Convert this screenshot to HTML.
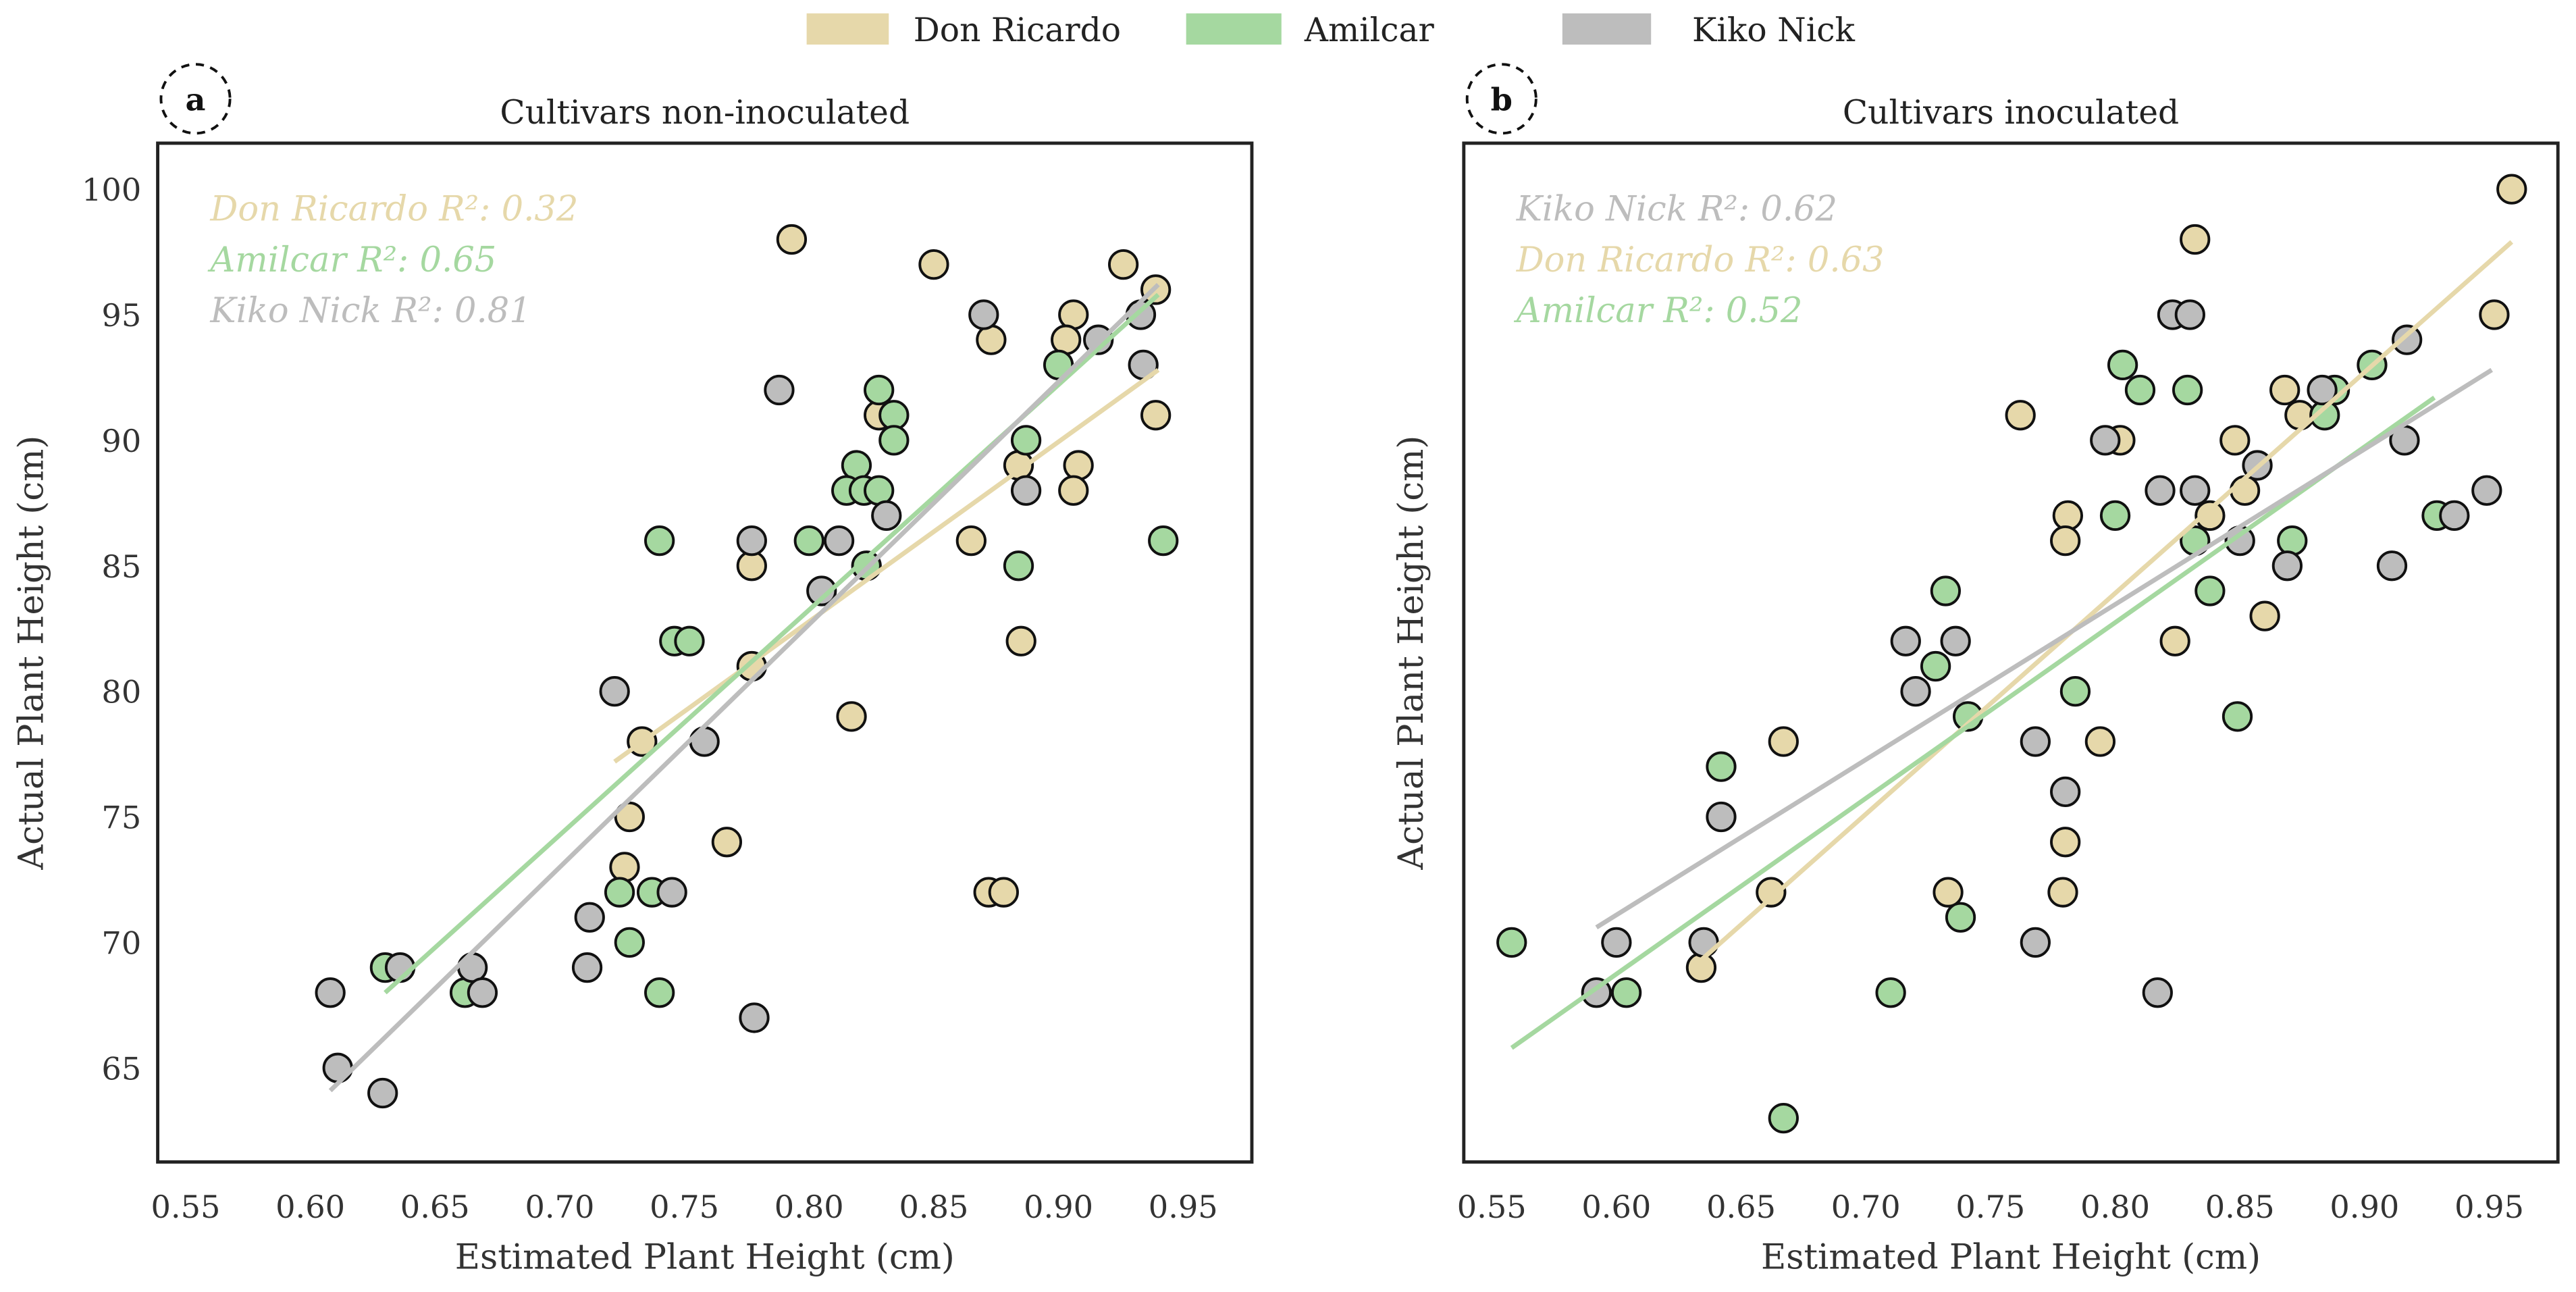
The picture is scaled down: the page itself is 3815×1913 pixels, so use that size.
<!DOCTYPE html>
<html><head><meta charset="utf-8"><style>
html,body{margin:0;padding:0;background:#fff}
svg{display:block;font-family:"DejaVu Serif","Liberation Serif",serif}
</style></head><body>
<svg id="fig" width="3815" height="1913" viewBox="0 0 1568 786" xmlns="http://www.w3.org/2000/svg">
<g font-size="20" fill="#222">
  <rect x="491" y="8" width="50" height="19" fill="#e6d8aa"/>
  <text x="556" y="25">Don Ricardo</text>
  <rect x="722" y="8" width="58" height="19" fill="#a5d8a0"/>
  <text x="794" y="25">Amilcar</text>
  <rect x="951" y="8" width="54" height="19" fill="#bdbdbd"/>
  <text x="1030" y="25">Kiko Nick</text>
</g>
<g id="pa"></g>
<g id="pb"></g>
</svg>
<script>
const xTicks=[0.55,0.60,0.65,0.70,0.75,0.80,0.85,0.90,0.95];
const yTicks=[65,70,75,80,85,90,95,100];
const cultivars=["Don Ricardo","Amilcar","Kiko Nick"];
const aDonX=[0.793,0.85,0.926,0.939,0.906,0.903,0.873,0.828,0.939,0.908,0.884,0.906,0.865,0.777,0.777,0.817,0.733,0.728,0.767,0.726,0.872,0.878,0.885];
const aDonY=[98,97,97,96,95,94,94,91,91,89,89,88,86,85,81,79,78,75,74,73,72,72,82];
const aAmiX=[0.828,0.834,0.834,0.900,0.887,0.819,0.815,0.822,0.828,0.800,0.740,0.942,0.884,0.746,0.752,0.724,0.737,0.728,0.740,0.630,0.662,0.823];
const aAmiY=[92,91,90,93,90,89,88,88,88,86,86,86,85,82,82,72,72,70,68,69,68,85];
const aKikX=[0.870,0.933,0.916,0.934,0.788,0.887,0.831,0.812,0.777,0.805,0.722,0.758,0.712,0.745,0.711,0.665,0.636,0.669,0.608,0.611,0.629,0.778];
const aKikY=[95,95,94,93,92,88,87,86,86,84,80,78,71,72,69,69,69,68,68,65,64,67];
const bDonX=[0.959,0.832,0.952,0.868,0.762,0.802,0.874,0.848,0.852,0.838,0.781,0.780,0.824,0.860,0.794,0.667,0.780,0.733,0.779,0.662,0.634];
const bDonY=[100,98,95,92,91,90,91,90,88,87,87,86,82,83,78,78,74,72,72,72,69];
const bAmiX=[0.803,0.810,0.829,0.888,0.903,0.884,0.800,0.929,0.832,0.871,0.838,0.732,0.728,0.784,0.849,0.741,0.642,0.738,0.558,0.604,0.710,0.667];
const bAmiY=[93,92,92,92,93,91,87,87,86,86,84,84,81,80,79,79,77,71,70,68,68,63];
const bKikX=[0.823,0.830,0.917,0.796,0.916,0.818,0.832,0.857,0.883,0.949,0.936,0.850,0.869,0.911,0.716,0.736,0.720,0.768,0.780,0.642,0.768,0.600,0.635,0.592,0.817];
const bKikY=[95,95,94,90,90,88,88,89,92,88,87,86,85,85,82,82,80,78,76,75,70,70,70,68,68];
// fit line endpoints [x1,y1,x2,y2]
const aDonFit=[0.722,77.2,0.940,92.8], aAmiFit=[0.630,68.0,0.940,95.8], aKikFit=[0.608,64.1,0.940,96.2];
const bDonFit=[0.634,69.3,0.959,97.9], bAmiFit=[0.558,65.8,0.928,91.7], bKikFit=[0.592,70.6,0.951,92.8];
const aR2=["Don Ricardo R²: 0.32","Amilcar R²: 0.65","Kiko Nick R²: 0.81"];
const bR2=["Kiko Nick R²: 0.62","Don Ricardo R²: 0.63","Amilcar R²: 0.52"];
const colors={"Don Ricardo":"#e6d8aa","Amilcar":"#a5d8a0","Kiko Nick":"#bdbdbd"};
const NS="http://www.w3.org/2000/svg";
function mk(p,t,a,txt){const e=document.createElementNS(NS,t);for(const k in a)e.setAttribute(k,a[k]);if(txt!==undefined)e.textContent=txt;p.appendChild(e);return e;}
function panel(g,L,letter,title,showY,series,fits,r2,r2cols){
  const R=L+666,T=87,B=707;
  const sx=v=>L+17+(v-0.55)/0.05*75.9;
  const sy=v=>115+(100-v)/5*76.4;
  let e=mk(g,"rect",{x:L,y:T,width:R-L,height:B-T,fill:"none",stroke:"#222","stroke-width":2});
  
  
  xTicks.forEach(t=>{e=mk(g,"text",{x:sx(t),y:741,"text-anchor":"middle","font-size":19,fill:"#333"},t.toFixed(2));
    
    });
  if(showY) yTicks.forEach(t=>{e=mk(g,"text",{x:86,y:sy(t)+7,"text-anchor":"end","font-size":19,fill:"#333"},t);
    
    });
  e=mk(g,"text",{x:L+333,y:772,"text-anchor":"middle","font-size":21,fill:"#333"},"Estimated Plant Height (cm)");
  
  
  const yx=L-70+(showY?0:45);
  e=mk(g,"text",{x:yx,y:397,"text-anchor":"middle","font-size":21,fill:"#333",transform:`rotate(-90 ${yx} 397)`},"Actual Plant Height (cm)");
  
  
  e=mk(g,"text",{x:L+333,y:75,"text-anchor":"middle","font-size":20,fill:"#222"},title);
  
  
  e=mk(g,"circle",{cx:L+23,cy:60,r:21,fill:"none",stroke:"#111","stroke-width":1.6,"stroke-dasharray":"5,4"});
  
  
  e=mk(g,"text",{x:L+23,y:67,"text-anchor":"middle","font-size":19,"font-weight":"bold",fill:"#111"},letter);
  
  
  series.forEach(s=>{s.x.forEach((xv,i)=>{e=mk(g,"circle",{cx:sx(xv),cy:sy(s.y[i]),r:8.5,fill:colors[s.n],stroke:"#111","stroke-width":1.6});
    
    });});
  fits.forEach(f=>{e=mk(g,"line",{x1:sx(f.d[0]),y1:sy(f.d[1]),x2:sx(f.d[2]),y2:sy(f.d[3]),stroke:colors[f.n],"stroke-width":2.8});
    
    });
  r2.forEach((t,i)=>{e=mk(g,"text",{x:L+32,y:134+i*31,"font-size":21,"font-style":"italic",fill:colors[r2cols[i]]},t);
    
    });
}
panel(document.getElementById("pa"),96,"a","Cultivars non-inoculated",true,
 [{n:"Don Ricardo",x:aDonX,y:aDonY},{n:"Amilcar",x:aAmiX,y:aAmiY},{n:"Kiko Nick",x:aKikX,y:aKikY}],
 [{n:"Don Ricardo",d:aDonFit},{n:"Amilcar",d:aAmiFit},{n:"Kiko Nick",d:aKikFit}],
 aR2,["Don Ricardo","Amilcar","Kiko Nick"]);
panel(document.getElementById("pb"),891,"b","Cultivars inoculated",false,
 [{n:"Don Ricardo",x:bDonX,y:bDonY},{n:"Amilcar",x:bAmiX,y:bAmiY},{n:"Kiko Nick",x:bKikX,y:bKikY}],
 [{n:"Don Ricardo",d:bDonFit},{n:"Amilcar",d:bAmiFit},{n:"Kiko Nick",d:bKikFit}],
 bR2,["Kiko Nick","Don Ricardo","Amilcar"]);
</script>
</body></html>
